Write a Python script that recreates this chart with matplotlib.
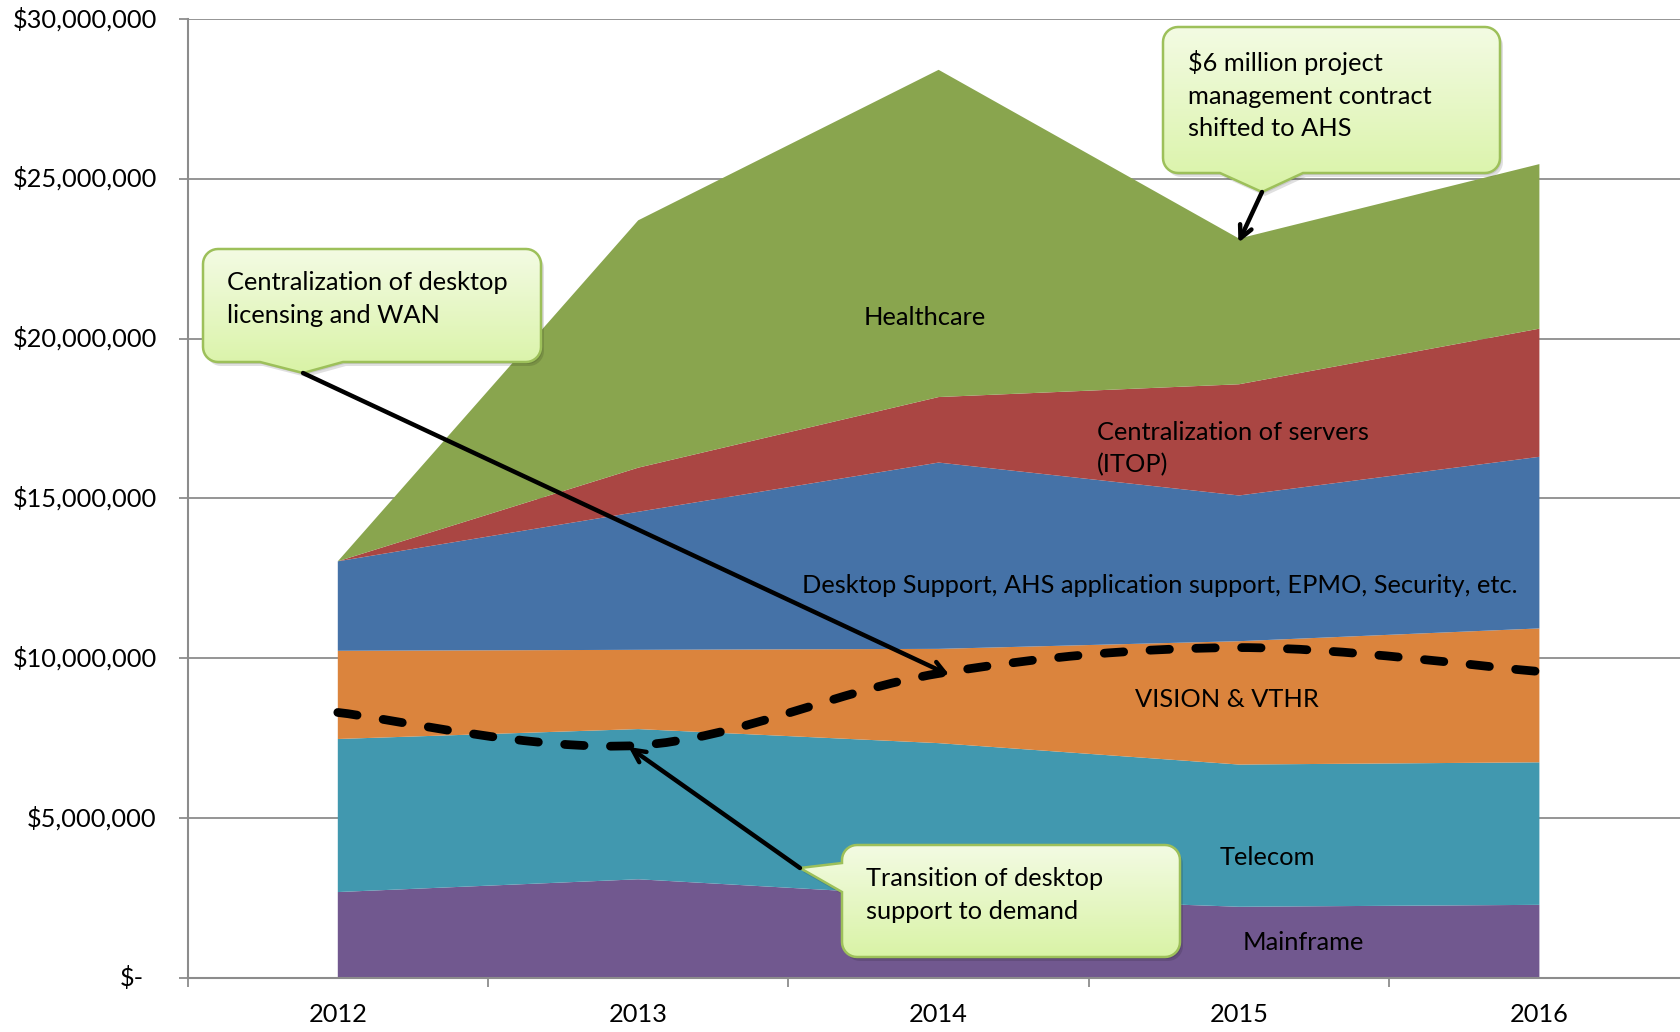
import numpy as np
import matplotlib
matplotlib.use('Agg')
import matplotlib.pyplot as plt
from matplotlib.path import Path
from matplotlib.patches import PathPatch, Polygon
from matplotlib.colors import LinearSegmentedColormap

plt.rcParams['font.family'] = ['Lato', 'DejaVu Sans']
plt.rcParams['lines.scale_dashes'] = False
FS = 18.3

# data, in millions of dollars
years = ['2012', '2013', '2014', '2015', '2016']
mainframe = [2.68, 3.08, 2.55, 2.22, 2.28]
telecom = [4.79, 4.70, 4.79, 4.45, 4.46]
vision = [2.76, 2.48, 2.95, 3.86, 4.19]
desktop = [2.80, 4.32, 5.83, 4.56, 5.37]
servers = [0.00, 1.38, 2.05, 3.48, 4.01]
healthcare = [0.00, 7.74, 10.24, 4.56, 5.15]
trend = [8.30, 7.27, 9.52, 10.33, 9.58]

series_names = ['Mainframe', 'Telecom', 'VISION & VTHR',
                'Desktop Support, AHS application support, EPMO, Security, etc.',
                'Centralization of servers\n(ITOP)', 'Healthcare']
colors = ['#71588F', '#4198AF', '#DB843D', '#4572A7', '#AA4643', '#89A54E']

yticks = [0, 5, 10, 15, 20, 25, 30]
ylabels = ['$-', '$5,000,000', '$10,000,000', '$15,000,000', '$20,000,000',
           '$25,000,000', '$30,000,000']

M = 1e6
x = np.arange(len(years))
layers = [np.array(s) * M for s in [mainframe, telecom, vision, desktop, servers, healthcare]]

W, H = 1681, 1032
fig = plt.figure(figsize=(W / 100, H / 100), dpi=100)
ax = fig.add_axes([187.6 / W, 1 - 977.7 / H, 1502 / W, (977.7 - 19) / H])

ax.stackplot(x, *layers, colors=colors, linewidth=0, zorder=2)
ax.set_xlim(-0.5, 4.5)
ax.set_ylim(0, 30 * M)

grey = '#8c8c8c'
ax.set_yticks([v * M for v in yticks])
ax.set_yticklabels([])
ax.yaxis.grid(True, color=grey, lw=1.3)
ax.set_axisbelow(True)
ax.tick_params(axis='y', length=6.5, width=1.3, color=grey, direction='out')
for v, lab in zip(yticks, ylabels):
    if v == 0:
        ax.text((120 - 187.6) / 1502, 0, lab, transform=ax.get_yaxis_transform(),
                ha='left', va='center', fontsize=FS)
    else:
        ax.text(-0.0205, v * M, lab, transform=ax.get_yaxis_transform(),
                ha='right', va='center', fontsize=FS)

ax.set_xticks(x)
ax.set_xticklabels(years, fontsize=FS)
ax.set_xticks(np.arange(-0.5, 5, 1), minor=True)
ax.tick_params(axis='x', which='major', length=0, pad=18)
ax.tick_params(axis='x', which='minor', length=6.5, width=1.3, color=grey, direction='out')
for s in ['top', 'right']:
    ax.spines[s].set_visible(False)
for s in ['left', 'bottom']:
    ax.spines[s].set_color(grey)
    ax.spines[s].set_linewidth(1.5)

# series labels
label_pos = [(3.213, 1.10), (3.096, 3.75), (2.960, 8.69), (2.735, 12.28), (2.528, 16.56), (1.953, 20.67)]
for name, (lx, ly) in zip(series_names, label_pos):
    if name.startswith('Centralization'):
        ax.text(lx, ly * M, name, ha='left', va='center', fontsize=FS, linespacing=1.5, zorder=4)
    else:
        ax.text(lx, ly * M, name, ha='center', va='center', fontsize=FS, zorder=4)

# smoothed dashed trend line (Catmull-Rom through the five points)
pts = np.column_stack([x, np.array(trend) * M])
verts = [pts[0]]
codes = [Path.MOVETO]
for i in range(len(pts) - 1):
    p0 = pts[max(i - 1, 0)]
    p1, p2 = pts[i], pts[i + 1]
    p3 = pts[min(i + 2, len(pts) - 1)]
    verts += [p1 + (p2 - p0) / 6, p2 - (p3 - p1) / 6, p2]
    codes += [Path.CURVE4] * 3
ax.add_patch(PathPatch(Path(verts, codes), fill=False, color='black', lw=6.3,
                       linestyle=(0, (14, 19)), capstyle='round', zorder=5))

# overlay in pixel coordinates for the callouts
ov = fig.add_axes([0, 0, 1, 1], zorder=10)
ov.set_facecolor('none')
ov.axis('off')

cmap = LinearSegmentedColormap.from_list('callout', ['#f3fbe3', '#d9f3a6'])


def callout_pts(x0, y0, x1, y1, side, b0, b1, tip, r=15):
    out = []

    def arc(cx, cy, a0, a1):
        for t in np.linspace(a0, a1, 10):
            out.append((cx + r * np.cos(t), cy + r * np.sin(t)))
    arc(x0 + r, y0 + r, np.pi, 1.5 * np.pi)
    arc(x1 - r, y0 + r, 1.5 * np.pi, 2 * np.pi)
    arc(x1 - r, y1 - r, 0, 0.5 * np.pi)
    if side == 'bottom':
        out += [(b1, y1), tip, (b0, y1)]
    arc(x0 + r, y1 - r, 0.5 * np.pi, np.pi)
    if side == 'left':
        out += [(x0, b1), tip, (x0, b0)]
    return np.array(out)


def draw_callout(x0, y0, x1, y1, side, b0, b1, tip, text, tx, ty):
    p = callout_pts(x0, y0, x1, y1, side, b0, b1, tip)
    ov.add_patch(Polygon(p + [3, 4], closed=True, fc='#000000', alpha=0.12, lw=0, zorder=1))
    ov.add_patch(Polygon(p + [1.5, 2], closed=True, fc='#000000', alpha=0.10, lw=0, zorder=1))
    shape = Polygon(p, closed=True, fc='none', ec='#9dc05a', lw=1.8, zorder=3)
    ov.add_patch(shape)
    im = ov.imshow(np.linspace(0, 1, 200).reshape(-1, 1), cmap=cmap, aspect='auto',
                   extent=(p[:, 0].min(), p[:, 0].max(), p[:, 1].max(), p[:, 1].min()),
                   origin='upper', zorder=2)
    im.set_clip_path(shape)
    ov.text(tx, ty, text, ha='left', va='center', fontsize=FS, linespacing=1.5, zorder=4)


draw_callout(203, 249, 541, 362, 'bottom', 260, 343, (303, 373),
             'Centralization of desktop\nlicensing and WAN', 227, 299)
draw_callout(1163, 27, 1500, 173, 'bottom', 1220, 1303, (1262, 192),
             '$6 million project\nmanagement contract\nshifted to AHS', 1188, 95)
draw_callout(842, 845, 1180, 957, 'left', 863, 892, (800, 868),
             'Transition of desktop\nsupport to demand', 866, 895)

ov.set_xlim(0, W)
ov.set_ylim(H, 0)

arrow = dict(arrowstyle='->,head_length=0.9,head_width=0.45', lw=3.2, color='black',
             shrinkA=0, shrinkB=0)
ov.annotate('', xy=(2.036, 9.47 * M), xycoords=ax.transData, xytext=(303, 373),
            textcoords='data', arrowprops=arrow, zorder=6)
ov.annotate('', xy=(2.998, 23.0 * M), xycoords=ax.transData, xytext=(1262, 192),
            textcoords='data', arrowprops=arrow, zorder=6)
ov.annotate('', xy=(0.968, 7.22 * M), xycoords=ax.transData, xytext=(800, 868),
            textcoords='data', arrowprops=arrow, zorder=6)

fig.savefig('out.png', dpi=100)
